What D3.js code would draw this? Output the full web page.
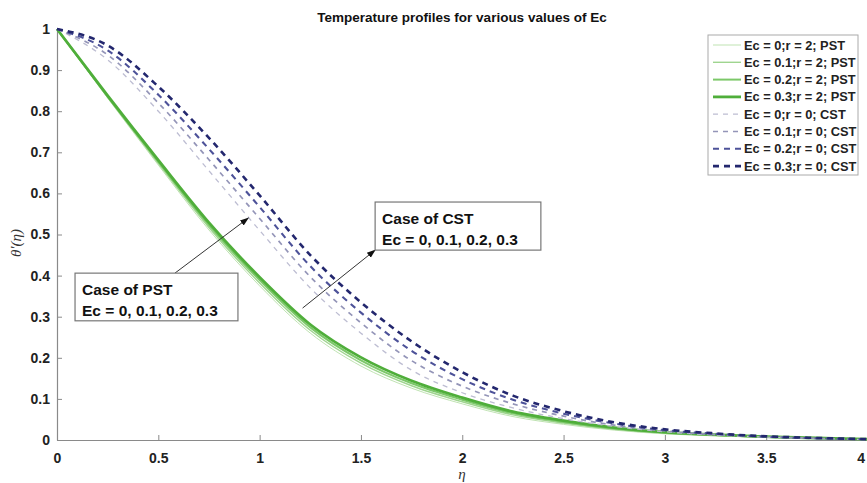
<!DOCTYPE html>
<html>
<head>
<meta charset="utf-8">
<script src="https://cdn.jsdelivr.net/npm/d3@7"></script>
<style>
  body { margin: 0; background: #fff; }
  svg { display: block; font-family: "Liberation Sans", Arial, sans-serif; }
</style>
</head>
<body>
<div id="chart"></div>
<script>
// eta grid
const eta = [0, 0.25, 0.5, 0.75, 1, 1.25, 1.5, 1.75, 2, 2.25, 2.5, 2.75, 3, 3.25, 3.5, 3.75, 4];

// PST, r = 2
const pstEc0  = [1, 0.832, 0.669, 0.511, 0.375, 0.260, 0.180, 0.126, 0.088, 0.057, 0.038, 0.024, 0.015, 0.010, 0.006, 0.003, 0.001];
const pstEc01 = [1, 0.834, 0.673, 0.517, 0.382, 0.267, 0.187, 0.132, 0.093, 0.061, 0.041, 0.026, 0.016, 0.011, 0.007, 0.004, 0.002];
const pstEc02 = [1, 0.836, 0.677, 0.523, 0.389, 0.274, 0.194, 0.138, 0.098, 0.065, 0.044, 0.028, 0.018, 0.012, 0.007, 0.004, 0.002];
const pstEc03 = [1, 0.838, 0.681, 0.529, 0.396, 0.281, 0.201, 0.144, 0.103, 0.069, 0.047, 0.030, 0.019, 0.013, 0.008, 0.005, 0.002];

// CST, r = 0
const cstEc0  = [1, 0.925, 0.800, 0.655, 0.510, 0.370, 0.260, 0.170, 0.115, 0.078, 0.052, 0.033, 0.020, 0.012, 0.007, 0.004, 0.001];
const cstEc01 = [1, 0.937, 0.820, 0.682, 0.539, 0.397, 0.285, 0.193, 0.131, 0.088, 0.058, 0.036, 0.022, 0.013, 0.008, 0.004, 0.001];
const cstEc02 = [1, 0.948, 0.840, 0.708, 0.567, 0.423, 0.310, 0.217, 0.148, 0.098, 0.064, 0.040, 0.024, 0.015, 0.008, 0.004, 0.002];
const cstEc03 = [1, 0.960, 0.860, 0.735, 0.595, 0.450, 0.335, 0.240, 0.165, 0.108, 0.070, 0.043, 0.026, 0.016, 0.009, 0.005, 0.002];

const seriesNames = [
  "Ec = 0;r = 2; PST", "Ec = 0.1;r = 2; PST", "Ec = 0.2;r = 2; PST", "Ec = 0.3;r = 2; PST",
  "Ec = 0;r = 0; CST", "Ec = 0.1;r = 0; CST", "Ec = 0.2;r = 0; CST", "Ec = 0.3;r = 0; CST"
];
const seriesValues = [pstEc0, pstEc01, pstEc02, pstEc03, cstEc0, cstEc01, cstEc02, cstEc03];

const xTicks = [0, 0.5, 1, 1.5, 2, 2.5, 3, 3.5, 4];
const yTicks = [0, 0.1, 0.2, 0.3, 0.4, 0.5, 0.6, 0.7, 0.8, 0.9, 1];

const styles = [
  { color: "#bfe3b2", width: 1.0, dash: null },
  { color: "#9fd58f", width: 1.4, dash: null },
  { color: "#7cc869", width: 2.0, dash: null },
  { color: "#4fae3a", width: 2.8, dash: null },
  { color: "#bdbdd2", width: 1.3, dash: "5,5" },
  { color: "#9495b8", width: 1.7, dash: "5,5" },
  { color: "#4d5299", width: 2.1, dash: "6,5" },
  { color: "#23276e", width: 2.6, dash: "6,5" }
];

const width = 867, height = 483;
const margin = { top: 29, right: -0.5, bottom: 43, left: 57 };
const innerW = width - margin.left - margin.right;
const innerH = height - margin.top - margin.bottom;

const svg = d3.select("#chart").append("svg")
  .attr("width", width)
  .attr("height", height);

const g = svg.append("g").attr("transform", `translate(${margin.left},${margin.top})`);

const x = d3.scaleLinear().domain([0, 4]).range([0, innerW]);
const y = d3.scaleLinear().domain([0, 1]).range([innerH, 0]);

// axes
const xAxis = g.append("g")
  .attr("transform", `translate(0,${innerH})`)
  .call(d3.axisBottom(x).tickValues(xTicks).tickFormat(d3.format("~g"))
    .tickSizeInner(-5).tickSizeOuter(0).tickPadding(13));
const yAxis = g.append("g")
  .call(d3.axisLeft(y).tickValues(yTicks).tickFormat(d3.format("~g"))
    .tickSizeInner(-5).tickSizeOuter(0).tickPadding(7));

[xAxis, yAxis].forEach(a => {
  a.select(".domain").attr("stroke", "#8a8a8a").attr("stroke-width", 1.2);
  a.selectAll(".tick line").attr("stroke", "#8a8a8a");
  a.selectAll(".tick text")
    .attr("fill", "#222")
    .style("font-size", "14px")
    .style("font-weight", "bold")
    .style("font-family", "'Liberation Sans', Arial, sans-serif");
});
// last x label sits on the window edge, keep it inside
xAxis.selectAll(".tick text").filter(d => d === 4).attr("text-anchor", "end").attr("dx", -3);

// curves
const line = d3.line()
  .x((d, i) => x(eta[i]))
  .y(d => y(d))
  .curve(d3.curveMonotoneX);

g.append("g").selectAll("path")
  .data(seriesValues)
  .join("path")
  .attr("d", d => line(d))
  .attr("fill", "none")
  .attr("stroke", (d, i) => styles[i].color)
  .attr("stroke-width", (d, i) => styles[i].width)
  .attr("stroke-dasharray", (d, i) => styles[i].dash);

// title
svg.append("text")
  .attr("x", 462).attr("y", 22)
  .attr("text-anchor", "middle")
  .style("font-size", "13.5px")
  .style("font-weight", "bold")
  .attr("fill", "#111")
  .text("Temperature profiles for various values of Ec");

// axis labels
svg.append("text")
  .attr("x", 462).attr("y", 479)
  .attr("text-anchor", "middle")
  .style("font-family", "'Liberation Serif', 'DejaVu Serif', serif")
  .style("font-style", "italic")
  .style("font-size", "15px")
  .attr("fill", "#333")
  .text("η");

svg.append("text")
  .attr("transform", "translate(21,243) rotate(-90)")
  .attr("text-anchor", "middle")
  .style("font-family", "'Liberation Serif', 'DejaVu Serif', serif")
  .style("font-style", "italic")
  .style("font-size", "15px")
  .attr("fill", "#333")
  .text("θ'(η)");

// annotations (data coordinates)
svg.append("defs").append("marker")
  .attr("id", "arrow")
  .attr("viewBox", "0 0 10 10")
  .attr("refX", 9).attr("refY", 5)
  .attr("markerWidth", 9).attr("markerHeight", 9)
  .attr("orient", "auto")
  .append("path")
  .attr("d", "M0,1.5 L10,5 L0,8.5 Z")
  .attr("fill", "#111");

const annotations = [
  { box: [0.089, 0.406, 0.893, 0.290], lines: ["Case of PST", "Ec = 0, 0.1, 0.2, 0.3"], from: [0.582, 0.406], to: [0.944, 0.540] },
  { box: [1.570, 0.579, 2.388, 0.462], lines: ["Case of CST", "Ec = 0, 0.1, 0.2, 0.3"], from: [1.212, 0.321], to: [1.570, 0.462] }
];

annotations.forEach(a => {
  g.append("line")
    .attr("x1", x(a.from[0])).attr("y1", y(a.from[1]))
    .attr("x2", x(a.to[0])).attr("y2", y(a.to[1]))
    .attr("stroke", "#333").attr("stroke-width", 1)
    .attr("marker-end", "url(#arrow)");
  const bx = x(a.box[0]), by = y(a.box[1]);
  const bw = x(a.box[2]) - bx, bh = y(a.box[3]) - by;
  g.append("rect")
    .attr("x", bx).attr("y", by).attr("width", bw).attr("height", bh)
    .attr("fill", "#fff").attr("stroke", "#777").attr("stroke-width", 1.2);
  a.lines.forEach((t, k) => {
    g.append("text")
      .attr("x", bx + 7).attr("y", by + 22 + k * 21)
      .style("font-size", "15.5px")
      .style("font-weight", "bold")
      .attr("fill", "#111")
      .text(t);
  });
});

// legend
const legend = svg.append("g").attr("transform", "translate(708,35)");
legend.append("rect")
  .attr("width", 150).attr("height", 140)
  .attr("fill", "#fff").attr("stroke", "#aaa").attr("stroke-width", 1);

const rows = legend.selectAll("g.row")
  .data(seriesNames)
  .join("g")
  .attr("class", "row")
  .attr("transform", (d, i) => `translate(0,${10 + i * 17.3})`);

rows.append("line")
  .attr("x1", 5).attr("x2", 33)
  .attr("y1", 0).attr("y2", 0)
  .attr("stroke", (d, i) => styles[i].color)
  .attr("stroke-width", (d, i) => styles[i].width)
  .attr("stroke-dasharray", (d, i) => styles[i].dash);

rows.append("text")
  .attr("x", 36).attr("y", 4.5)
  .style("font-size", "12.8px")
  .style("font-weight", "bold")
  .attr("fill", "#222")
  .text(d => d);
</script>
</body>
</html>
